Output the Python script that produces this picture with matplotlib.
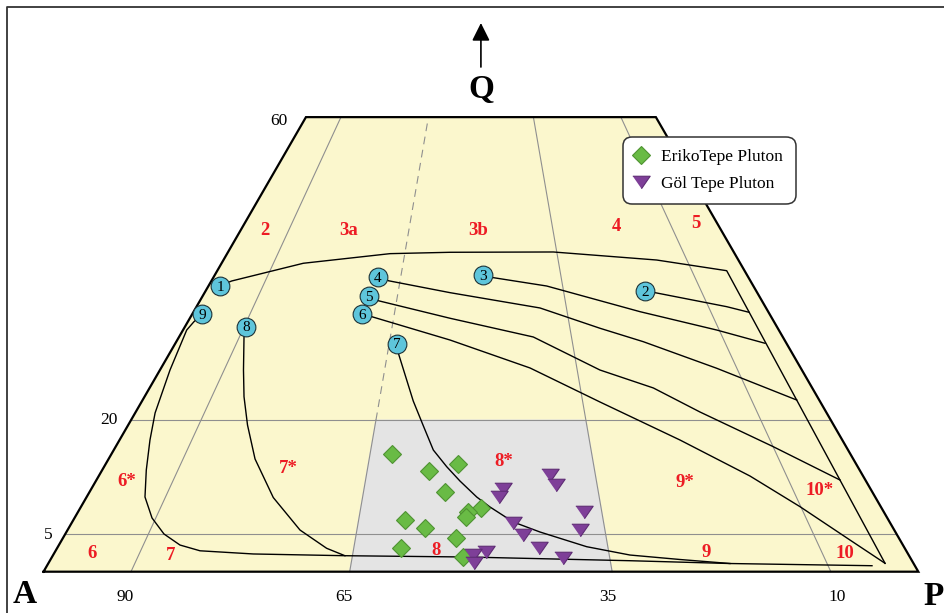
import matplotlib.pyplot as plt
import numpy as np

plt.rcParams['font.family'] = ['Liberation Serif', 'DejaVu Serif']

# sample points, QAP normalised (Q, P); A = 100 - Q - P
eriko_q = [15.50, 13.33, 14.18, 10.56, 8.37, 7.92, 7.18, 6.82, 5.81, 4.49, 3.09, 1.98]
eriko_p = [32.12, 37.43, 40.33, 40.65, 45.82, 44.60, 44.71, 37.91, 40.70, 44.90, 39.28, 47.00]
gol_q = [12.76, 11.44, 10.88, 9.90, 7.92, 6.39, 5.50, 4.84, 3.17, 2.64, 2.20, 1.77, 1.11]
gol_p = [51.52, 52.86, 47.05, 47.15, 57.86, 50.43, 58.58, 52.36, 55.09, 49.26, 48.03, 58.54, 48.66]

# magmatic trend curves (Q, P)
trend_1 = [(37.75, 1.30), (38.37, 2.32), (40.71, 9.34), (41.98, 18.62), (42.16, 25.39), (42.20, 37.18),
           (41.14, 49.52), (39.73, 58.23), (1.11, 95.64)]
trend_2 = [(37.09, 50.21), (36.83, 51.49), (34.98, 60.61), (34.24, 63.53)]
trend_3 = [(39.12, 30.71), (38.81, 32.02), (37.71, 38.66), (34.32, 51.03), (31.90, 61.00), (30.15, 67.40)]
trend_4 = [(38.86, 18.77), (38.41, 20.20), (36.83, 28.06), (34.81, 39.35), (32.13, 47.55), (30.36, 53.38),
           (26.85, 63.53), (22.66, 74.77)]
trend_5 = [(36.39, 18.97), (35.77, 20.38), (33.45, 29.75), (30.98, 40.50), (26.62, 50.30), (24.25, 57.59),
           (21.08, 64.50), (16.50, 75.17), (12.10, 85.00)]
trend_6 = [(33.98, 19.45), (33.66, 20.69), (30.58, 31.18), (26.89, 42.17), (22.40, 52.41), (17.38, 64.07),
           (12.63, 74.44), (8.58, 82.19), (4.18, 90.10), (1.11, 95.64)]
trend_7 = [(30.10, 25.39), (28.83, 26.15), (22.53, 31.00), (19.36, 33.70), (16.06, 36.53), (13.86, 39.16),
           (11.97, 41.62), (9.86, 44.59), (8.54, 46.77), (6.56, 50.42), (5.24, 54.13), (3.30, 60.44),
           (2.20, 65.94), (1.61, 71.95), (1.08, 77.93)]
trend_8 = [(32.34, 6.98), (31.02, 7.41), (26.62, 9.55), (23.10, 11.37), (19.36, 13.64), (14.88, 16.74),
           (9.79, 21.37), (5.50, 26.57), (3.09, 30.82), (2.11, 33.40)]
trend_9 = [(33.98, 1.16), (33.00, 0.70), (31.90, 0.42), (26.62, 1.15), (20.95, 2.28), (17.38, 3.48),
           (13.42, 5.04), (9.86, 6.67), (7.09, 8.86), (4.98, 11.28), (3.52, 13.84), (2.76, 16.51),
           (2.34, 22.81), (2.11, 33.40), (1.94, 47.41), (1.45, 66.31), (1.08, 77.93), (0.79, 94.31)]

circle_ids = ['1', '2', '3', '4', '5', '6', '7', '8', '9']
circle_q = [37.75, 37.09, 39.12, 38.86, 36.39, 33.98, 30.10, 32.34, 33.98]
circle_p = [1.30, 50.21, 30.71, 18.77, 18.97, 19.45, 25.39, 6.98, 1.16]

# Streckeisen field numbers
field_names = ['2', '3a', '3b', '4', '5', '6*', '7*', '8*', '9*', '10*', '6', '7', '8', '9', '10']
field_q = [45.20, 45.20, 45.20, 45.76, 46.07, 12.10, 13.86, 14.74, 11.97, 10.88, 2.64, 2.34, 2.96, 2.77, 2.56]
field_p = [2.72, 12.32, 27.07, 42.56, 51.52, 3.46, 21.05, 45.19, 67.34, 83.32, 4.19, 13.37, 43.39, 74.34, 90.34]

ratio_lines = [10, 35, 65, 90]          # 100*P/(A+P)
ratio_labels = ['90', '65', '35', '10']  # 100*A/(A+P)
q_lines = [5, 20]
q_labels = ['60', '20', '5']

YELLOW = '#fbf7cd'
GREY = '#e4e4e4'
THIN = '#8f8f8f'


def tern(q, p):
    q = np.asarray(q, dtype=float)
    p = np.asarray(p, dtype=float)
    return p + q / 2.0, q * np.sqrt(3) / 2.0


def ratio_p(r, q):
    return r * (100.0 - np.asarray(q, dtype=float)) / 100.0


fig = plt.figure(figsize=(9.45, 6.13), dpi=100)
ax = fig.add_axes([0, 0, 1, 1])
ax.set_xlim(-4.973, 103.05)
ax.set_ylim(-4.721, 65.35)
ax.axis('off')

# frame of the picture
ax.plot([0.0074, 0.0074, 1.0], [0.0, 0.9886, 0.9886], transform=ax.transAxes, color='#333333', lw=1.3,
        clip_on=False)

# truncated QAP triangle
tq = [0, 0, 60, 60, 0]
tp = [0, 100, 40, 0, 0]
x, y = tern(tq, tp)
ax.fill(x, y, color=YELLOW, zorder=0)

gq = np.array([0, 0, 20, 20])
gp = np.array([ratio_p(35, 0), ratio_p(65, 0), ratio_p(65, 20), ratio_p(35, 20)])
x, y = tern(gq, gp)
ax.fill(x, y, color=GREY, zorder=1)

for q in q_lines:
    x, y = tern([q, q], [0, 100 - q])
    ax.plot(x, y, color=THIN, lw=0.8, zorder=2)

for r in ratio_lines:
    if r == 35:
        x, y = tern([0, 20], ratio_p(r, [0, 20]))
        ax.plot(x, y, color=THIN, lw=0.8, zorder=2)
        x, y = tern([20, 60], ratio_p(r, [20, 60]))
        ax.plot(x, y, color=THIN, lw=0.8, dashes=(7, 5), zorder=2)
    else:
        x, y = tern([0, 60], ratio_p(r, [0, 60]))
        ax.plot(x, y, color=THIN, lw=0.8, zorder=2)

for curve in [trend_1, trend_2, trend_3, trend_4, trend_5, trend_6, trend_7, trend_8, trend_9]:
    q, p = zip(*curve)
    x, y = tern(q, p)
    ax.plot(x, y, color='black', lw=1.0, zorder=3)

x, y = tern(tq, tp)
ax.plot(x, y, color='black', lw=1.6, zorder=4, solid_joinstyle='miter')

# field numbers
x, y = tern(field_q, field_p)
for name, xi, yi in zip(field_names, x, y):
    ax.text(xi, yi - 0.15, name, color='#ed1c24', fontsize=13.5, fontweight='bold', ha='center',
            va='center', zorder=5)

# trend start circles
x, y = tern(circle_q, circle_p)
ax.plot(x, y, 'o', ms=13.5, mfc='#5ec5db', mec='#1d3338', mew=0.8, zorder=6)
for name, xi, yi in zip(circle_ids, x, y):
    ax.text(xi, yi - 0.15, name, fontsize=11, ha='center', va='center', zorder=7)

# samples
tri = [(-1, 0.72), (1, 0.72), (0, -0.72)]
x, y = tern(eriko_q, eriko_p)
ax.plot(x, y, 'D', ms=8.8, mfc='#69bb45', mec='#4f9332', mew=0.8, ls='none', zorder=8,
        label='ErikoTepe Pluton')
x, y = tern(gol_q, gol_p)
ax.plot(x, y, marker=tri, ms=12.5, mfc='#7e3f98', mec='#5e2c74', mew=0.8, ls='none', zorder=9,
        label='Göl Tepe Pluton')

# axis numbers
base_x = [9.32, 34.39, 64.56, 90.67]
for lab, xi in zip(ratio_labels, base_x):
    ax.text(xi, -3.35, lab, fontsize=12.5, ha='center', va='baseline')
side_x = [27.87, 8.48, 1.01]
side_y = [51.03, 16.85, 3.70]
for lab, xi, yi in zip(q_labels, side_x, side_y):
    ax.text(xi, yi, lab, fontsize=12.5, ha='right', va='baseline')

# apices
ax.text(-2.11, -3.54, 'A', fontsize=24, fontweight='bold', ha='center', va='baseline')
ax.text(100.6, -3.85, 'P', fontsize=24, fontweight='bold', ha='left', va='baseline')
ax.text(50.1, 54.1, 'Q', fontsize=24, fontweight='bold', ha='center', va='baseline')
ax.annotate('', xy=(50.0, 62.72), xytext=(50.0, 57.69),
            arrowprops=dict(arrowstyle='-|>,head_length=0.9,head_width=0.45', mutation_scale=12,
                            lw=1.2, color='black', shrinkA=0, shrinkB=0))

leg = ax.legend(loc='upper left', bbox_to_anchor=(622.7 / 945, 1 - 136.7 / 613), borderaxespad=0,
                fontsize=12.5, frameon=True, fancybox=True, numpoints=1, borderpad=0.72,
                handlelength=0.7, handletextpad=0.8, labelspacing=0.6)
frame = leg.get_frame()
frame.set_edgecolor('#333333')
frame.set_linewidth(1.1)
frame.set_facecolor('white')
frame.set_alpha(1)
frame.set_boxstyle('round,pad=0,rounding_size=0.55')
leg.set_zorder(10)

fig.savefig('out.png', dpi=100)
